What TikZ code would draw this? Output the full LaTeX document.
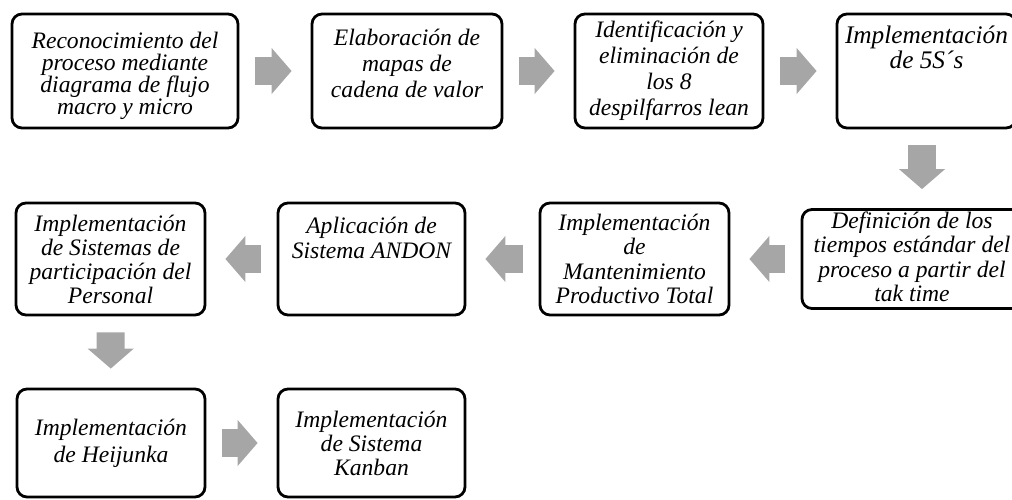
\documentclass[tikz,border=0pt]{standalone}
\usepackage{fontspec}
\setmainfont{Liberation Serif}
\usepackage{tikz}
\usetikzlibrary{arrows.meta, positioning}

\definecolor{arrowgray}{HTML}{A6A6A6}

\begin{document}
\begin{tikzpicture}[
  x=0.5pt, y=-0.5pt,
  paso/.style={rectangle, rounded corners=5pt, draw=black, line width=1.4pt, inner sep=1pt, minimum height=57pt, align=center, font=\fontsize{11.8}{#1}\selectfont\itshape},
  paso/.default=13pt,
  flow/.style={draw=arrowgray, line width=14pt, -{Triangle[length=10pt, width=22.5pt]}, shorten <=8pt, shorten >=9.5pt}
]
  \useasboundingbox (0,0) rectangle (1012,499);
  \clip (0,0) rectangle (1012,499);

  % primera fila
  \node[paso=11pt, minimum width=113pt] (b1) at (125,71) {\mbox{}\\[2pt]Reconocimiento del\\proceso mediante\\diagrama de flujo\\macro y micro};
  \node[paso, minimum width=95pt] (b2) at (407,71) {Elaboración de\\mapas de\\cadena de valor\\[-4.85pt]\mbox{}};
  \node[paso, minimum width=94pt] (b3) at (669,71) {Identificación y\\eliminación de\\los 8\\despilfarros lean};
  \node[paso, minimum width=89.5pt, font=\fontsize{12.65}{10}\selectfont\itshape] (b4) at (926.5,71) {Implementación\\de 5S´s\\[13.75pt]\mbox{}};

  % segunda fila
  \node[paso=12pt, minimum width=94.5pt, minimum height=56pt] (b5) at (110.5,259) {Implementación\\de Sistemas de\\participación del\\Personal};
  \node[paso=12.5pt, minimum width=93.5pt, minimum height=56pt] (b6) at (371.5,259) {Aplicación de\\Sistema ANDON\\[9.15pt]\mbox{}};
  \node[paso=12.2pt, minimum width=94.5pt, minimum height=56pt] (b7) at (634.5,259) {Implementación\\de\\Mantenimiento\\Productivo Total};
  \node[paso=12.3pt, minimum width=110pt, minimum height=49.5pt, inner ysep=0pt] (b8) at (912,259) {Definición de los\\tiempos estándar del\\proceso a partir del\\tak time\\[-10pt]\mbox{}};

  % tercera fila
  \node[paso=13.5pt, minimum width=94pt, minimum height=54pt] (b9) at (111,443) {Implementación\\de Heijunka};
  \node[paso=12pt, minimum width=93.5pt, minimum height=54pt] (b10) at (371.5,443) {Implementación\\de Sistema\\Kanban};

  \draw[flow] (b1) -- (b2);
  \draw[flow] (b2) -- (b3);
  \draw[flow] (b3) -- (b4);
  \draw[flow] ([xshift=-2.25pt]b4.south) -- ([xshift=5pt]b8.north);
  \draw[flow] (b8) -- (b7);
  \draw[flow] (b7) -- (b6);
  \draw[flow] (b6) -- (b5);
  \draw[flow] (b5) -- (b9);
  \draw[flow] (b9) -- (b10);
\end{tikzpicture}
\end{document}
